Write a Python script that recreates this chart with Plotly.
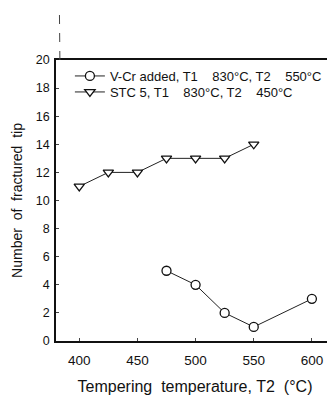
import plotly.graph_objects as go

vcr_x = [475, 500, 525, 550, 600]
vcr_y = [5, 4, 2, 1, 3]
stc_x = [400, 425, 450, 475, 500, 525, 550]
stc_y = [11, 12, 12, 13, 13, 13, 14]
x_ticks = [400, 450, 500, 550, 600]
y_ticks = [0, 2, 4, 6, 8, 10, 12, 14, 16, 18, 20]

FONT = "Liberation Sans, Arial, sans-serif"
SP = "\u00a0" * 4
NB = "\u00a0"

fig = go.Figure()
fig.add_trace(go.Scatter(
    x=vcr_x, y=vcr_y, mode="lines+markers",
    name="V-Cr added, T1" + SP + "830°C, T2" + SP + "550°C",
    legend="legend",
    line=dict(color="#222", width=1),
    marker=dict(symbol="circle", size=9, color="white", line=dict(width=1.3, color="#111")),
))
fig.add_trace(go.Scatter(
    x=stc_x, y=stc_y, mode="lines+markers",
    name="STC 5, T1" + SP + "830°C, T2" + SP + "450°C",
    legend="legend2",
    line=dict(color="#222", width=1),
    marker=dict(symbol="triangle-down", size=9, color="white", line=dict(width=1.3, color="#111")),
))

leg_common = dict(xanchor="left", yanchor="middle", bgcolor="rgba(0,0,0,0)",
                  font=dict(size=13, color="#111"), itemwidth=30)

fig.update_layout(
    width=327, height=394,
    margin=dict(l=48, r=1, t=52, b=61),
    paper_bgcolor="white", plot_bgcolor="white",
    font=dict(family=FONT, size=12, color="#111"),
    showlegend=True,
    legend=dict(x=0.05, y=1 - 16 / 281, **leg_common),
    legend2=dict(x=0.05, y=1 - 32 / 281, **leg_common),
    xaxis=dict(
        range=[380, 619], tickvals=x_ticks, ticks="inside", ticklen=3,
        showline=True, linecolor="#111", linewidth=1.6, mirror=True,
        showgrid=False, zeroline=False, automargin=False,
        tickfont=dict(size=13.5), ticklabelstandoff=6,
        title=dict(text=NB * 3 + "Tempering" + NB * 2 + "temperature," + NB + "T2" + NB * 2 + "(°C)",
                   font=dict(size=16), standoff=14),
    ),
    yaxis=dict(
        range=[0, 20], tickvals=y_ticks, ticks="inside", ticklen=3,
        showline=True, linecolor="#111", linewidth=1.6, mirror=True,
        showgrid=False, zeroline=False, automargin=False,
        tickfont=dict(size=12.5), ticklabelstandoff=2,
        title=dict(text="Number" + NB * 2 + "of" + NB * 2 + "fractured" + NB * 2 + "tip",
                   font=dict(size=14), standoff=10),
    ),
    shapes=[dict(type="line", xref="paper", yref="paper",
                 x0=0.014, x1=0.012, y0=1.0, y1=1.21,
                 line=dict(color="#444", width=1, dash="dash"))],
)

fig.write_html("out.html")
